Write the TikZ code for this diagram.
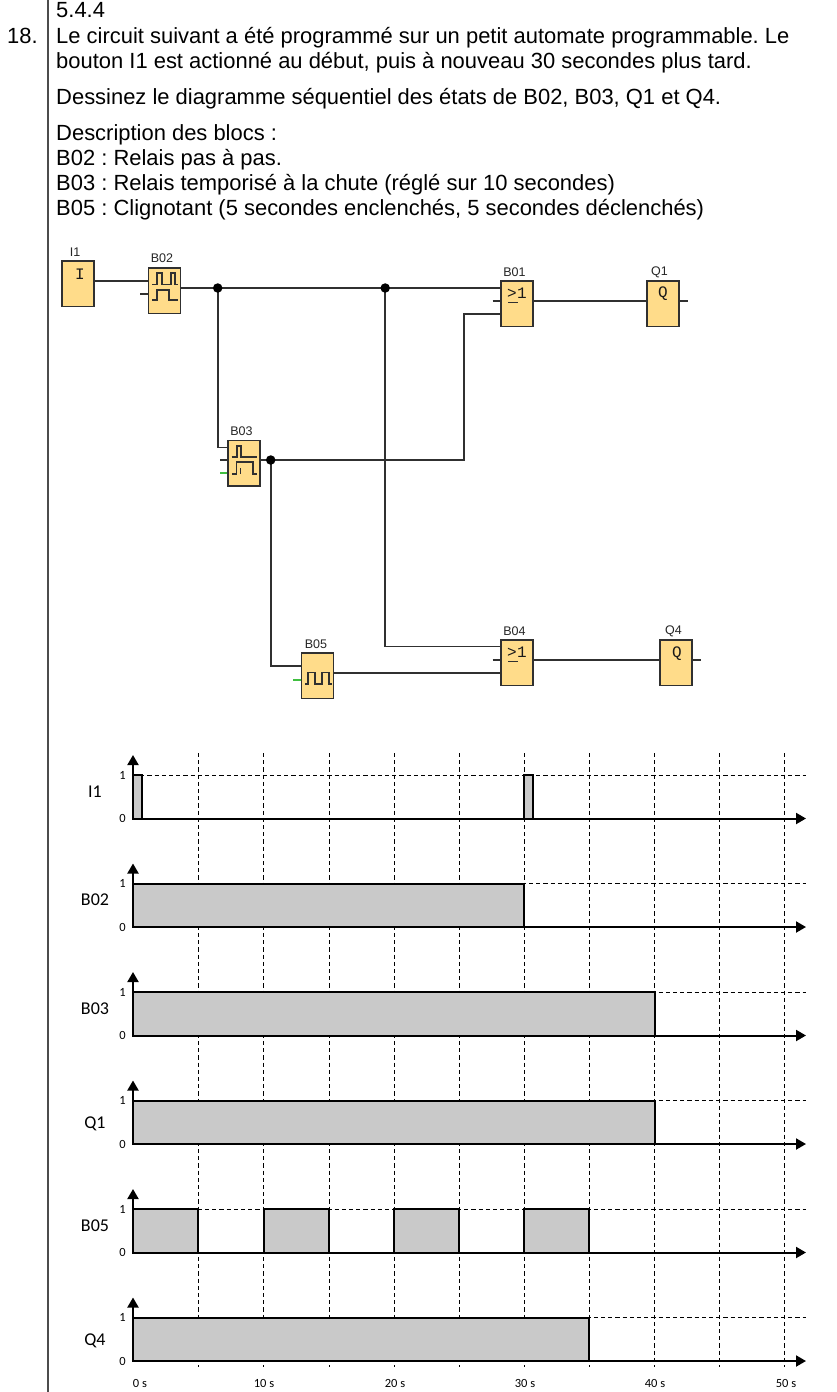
\documentclass[tikz,border=0pt]{standalone}
\usepackage{fontspec}
\setmainfont{Liberation Sans}
\newfontfamily\chartfont{Carlito}
\newfontfamily\blockfont{Liberation Mono}
\usetikzlibrary{arrows.meta}
\definecolor{blockfill}{HTML}{FFDC8A}
\definecolor{wirecol}{HTML}{303030}
\definecolor{pulsegray}{HTML}{C9C9C9}
\tikzset{
  para/.style={anchor=base west,inner sep=0pt,font=\fontsize{21.95}{24}\selectfont},
  block/.style={draw=wirecol,fill=blockfill,line width=1.5pt,minimum width=32pt,minimum height=45.5pt,inner sep=0pt,outer sep=0pt,anchor=north west},
  blabel/.style={inner sep=0pt,font=\fontsize{12.5}{14}\selectfont,text=black!85},
  wire/.style={draw=wirecol,line width=1.7pt},
  glyph/.style={draw=wirecol,line width=1.6pt},
  green stub/.style={draw=green!50!gray,line width=1.5pt},
  junction/.style={circle,fill=black,minimum size=9.5pt,inner sep=0pt},
  sym/.style={inner sep=0pt,font=\blockfont\fontsize{16}{16}\selectfont,text=black!90},
  axisline/.style={draw=black,line width=2pt,-{Triangle[length=10pt,width=11pt]}},
  gridline/.style={draw=black,line width=1pt,dash pattern=on 4.2pt off 3pt},
  pulse/.style={draw=black,fill=pulsegray,line width=2pt},
  rowname/.style={inner sep=0pt,font=\chartfont\fontsize{18}{20}\selectfont},
  ticklab/.style={inner sep=0pt,font=\chartfont\fontsize{12.5}{14}\selectfont},
}
\frenchspacing
\begin{document}
\begin{tikzpicture}[x=1pt,y=-1pt]
\useasboundingbox (0,0) rectangle (836,1392);
\fill[white] (0,0) rectangle (836,1392);
% page margin rule
\coordinate (ruleA) at (48,0);
\coordinate (ruleB) at (48,1392);
\draw[draw=black!70,line width=1.4pt] (ruleA) -- (ruleB);
% text
\node[para] (t0) at (56,17) {5.4.4};
\node[para] (num) at (7,43) {18.};
\node[para] (t1) at (56,43) {Le circuit suivant a été programmé sur un petit automate programmable. Le};
\node[para] (t2) at (56,68) {bouton I1 est actionné au début, puis à nouveau 30 secondes plus tard.};
\node[para] (t3) at (56,104) {Dessinez le diagramme séquentiel des états de B02, B03, Q1 et Q4.};
\node[para] (t4) at (56,140) {Description des blocs :};
\node[para] (t5) at (56,165) {B02 : Relais pas à pas.};
\node[para] (t6) at (56,190) {B03 : Relais temporisé à la chute (réglé sur 10 secondes)};
\node[para] (t7) at (56,215) {B05 : Clignotant (5 secondes enclenchés, 5 secondes déclenchés)};
% junctions and pins
\coordinate (I1out) at (94.5,281);
\coordinate (B02in) at (148.5,281);
\coordinate (B02stub) at (140,294);
\coordinate (B02pin) at (148.5,294);
\coordinate (B02out) at (181,288);
\coordinate (B01a) at (501,288);
\coordinate (B01b) at (501,301);
\coordinate (B01c) at (501,314);
\coordinate (B01bs) at (492.5,301);
\coordinate (B01out) at (533,301);
\coordinate (Q1in) at (647,301);
\coordinate (Q1out) at (679,301);
\coordinate (Q1s) at (688,301);
\coordinate (B03a) at (228,447.5);
\coordinate (B03b) at (228,460);
\coordinate (B03bs) at (220,460);
\coordinate (B03c) at (228,473);
\coordinate (B03cs) at (220,473);
\coordinate (B03out) at (260.5,460);
\coordinate (bendA) at (464,460);
\coordinate (bendB) at (464,314);
\coordinate (B05a) at (301.5,666);
\coordinate (B05c) at (301.5,680);
\coordinate (B05cs) at (293,680);
\coordinate (B05out) at (333.5,673);
\coordinate (B04a) at (501,646.5);
\coordinate (B04b) at (501,660);
\coordinate (B04bs) at (492.5,660);
\coordinate (B04c) at (501,673);
\coordinate (B04out) at (533,660);
\coordinate (Q4in) at (660,660);
\coordinate (Q4out) at (692,660);
\coordinate (Q4s) at (701,660);
\coordinate (J1) at (217.7,288);
\coordinate (J2) at (385.2,288);
\coordinate (J3) at (270.7,460);
% wires
\draw[wire] (I1out) -- (B02in);
\draw[wire] (B02stub) -- (B02pin);
\draw[wire] (B02out) -- (B01a);
\draw[wire] (J1) |- (B03a);
\draw[wire] (J2) |- (B04a);
\draw[wire] (B03bs) -- (B03b);
\draw[green stub] (B03cs) -- (B03c);
\draw[wire] (B03out) -- (bendA) -- (bendB) -- (B01c);
\draw[wire] (B01bs) -- (B01b);
\draw[wire] (B01out) -- (Q1in);
\draw[wire] (Q1out) -- (Q1s);
\draw[wire] (J3) |- (B05a);
\draw[green stub] (B05cs) -- (B05c);
\draw[wire] (B05out) -- (B04c);
\draw[wire] (B04bs) -- (B04b);
\draw[wire] (B04out) -- (Q4in);
\draw[wire] (Q4out) -- (Q4s);
\node[junction] (j1) at (J1) {};
\node[junction] (j2) at (J2) {};
\node[junction] (j3) at (J3) {};
% blocks
\node[block] (I1) at (62,261) {};
\node[block] (B02) at (148.5,268) {};
\node[block] (B03) at (228,440.5) {};
\node[block] (B05) at (301.5,653) {};
\node[block] (B01) at (501,281) {};
\node[block] (Q1) at (647,281) {};
\node[block] (B04) at (501,640) {};
\node[block] (Q4) at (660,640) {};
% block labels
\node[blabel] (lI1) at (75,252) {I1};
\node[blabel] (lB02) at (162,258.5) {B02};
\node[blabel] (lB03) at (241.5,431.5) {B03};
\node[blabel] (lB05) at (316,644) {B05};
\node[blabel] (lB01) at (514.5,272) {B01};
\node[blabel] (lQ1) at (659.5,272) {Q1};
\node[blabel] (lB04) at (514.5,631) {B04};
\node[blabel] (lQ4) at (673.5,631) {Q4};
% block symbols
\node[sym] (sI) at (80,274) {I};
\node[sym] (sQ1) at (663,294) {Q};
\node[sym] (sQ4) at (677,653.5) {Q};
\node[sym] (s1a) at (512,293.5) {>};
\node[sym] (s1b) at (522,293) {1};
\draw[glyph] (508,302.5) -- (518,302.5);
\node[sym] (s4a) at (512,652.5) {>};
\node[sym] (s4b) at (522,652) {1};
\draw[glyph] (508,661.5) -- (518,661.5);
% B02 glyph
\draw[glyph] (152,284.5) -- (156.7,284.5) -- (156.7,273) -- (162,273) -- (162,284.5) -- (170.7,284.5) -- (170.7,273) -- (175,273) -- (175,284.5) -- (178,284.5);
\draw[glyph] (152,300) -- (156.7,300) -- (156.7,290) -- (169,290) -- (169,300) -- (178,300);
% B03 glyph
\draw[glyph] (231.7,456.7) -- (236.7,456.7) -- (236.7,445.7) -- (240.7,445.7) -- (240.7,456.7) -- (256.7,456.7);
\draw[glyph] (232,473.7) -- (236.5,473.7) -- (236.5,461.7) -- (253,461.7) -- (253,473.7) -- (256.7,473.7);
\draw[glyph] (240.5,468) -- (240.5,474);
% B05 glyph
\draw[glyph] (305,684) -- (308,684) -- (308,672.3) -- (315,672.3) -- (315,684) -- (321.7,684) -- (321.7,672.3) -- (329,672.3) -- (329,684) -- (331.7,684);
% chart grid
\foreach \gx [count=\gi] in {198,263.5,329,394,459,524,589,654.5,719.5,784.5}{
  \coordinate (gt\gi) at (\gx,753);
  \coordinate (gb\gi) at (\gx,1367);
  \draw[gridline] (gt\gi) -- (gb\gi);
}
% rows
\foreach \rn/\ry in {a/775,b/883.5,c/992,d/1100.5,e/1209,f/1317.5}{
  \coordinate (top\rn) at (133,\ry);
  \coordinate (topend\rn) at (806,\ry);
  \coordinate (base\rn) at (133,\ry+43.5);
  \coordinate (arrowtop\rn) at (133,\ry-20);
  \coordinate (arrowend\rn) at (806,\ry+43.5);
  \draw[gridline] (top\rn) -- (topend\rn);
}
% pulses
\draw[pulse] (133,818.5) rectangle (142,775);
\draw[pulse] (524,818.5) rectangle (533,775);
\draw[pulse] (133,927) rectangle (524,883.5);
\draw[pulse] (133,1035.5) rectangle (654.5,992);
\draw[pulse] (133,1144) rectangle (654.5,1100.5);
\draw[pulse] (133,1252.5) rectangle (198,1209);
\draw[pulse] (263.5,1252.5) rectangle (329,1209);
\draw[pulse] (394,1252.5) rectangle (459,1209);
\draw[pulse] (524,1252.5) rectangle (589,1209);
\draw[pulse] (133,1361) rectangle (589,1317.5);
% axes
\foreach \rn/\ry/\lab/\lx/\ly in {a/775/I1/95/791.5,b/883.5/B02/95/900,c/992/B03/95/1009,d/1100.5/Q1/95/1124,e/1209/B05/95/1226,f/1317.5/Q4/95/1341}{
  \draw[axisline] (base\rn) -- (arrowtop\rn);
  \draw[axisline] (base\rn) -- (arrowend\rn);
  \node[rowname] (name\rn) at (\lx,\ly) {\lab};
  \node[ticklab] (one\rn) at (122.5,\ry) {1};
  \node[ticklab] (zero\rn) at (122.5,\ry+43.5) {0};
}
% time labels
\node[ticklab] (t00) at (140,1383) {0 s};
\node[ticklab] (t10) at (264,1383) {10 s};
\node[ticklab] (t20) at (395,1383) {20 s};
\node[ticklab] (t30) at (525,1383) {30 s};
\node[ticklab] (t40) at (655,1383) {40 s};
\node[ticklab] (t50) at (786,1383) {50 s};
\end{tikzpicture}
\end{document}
